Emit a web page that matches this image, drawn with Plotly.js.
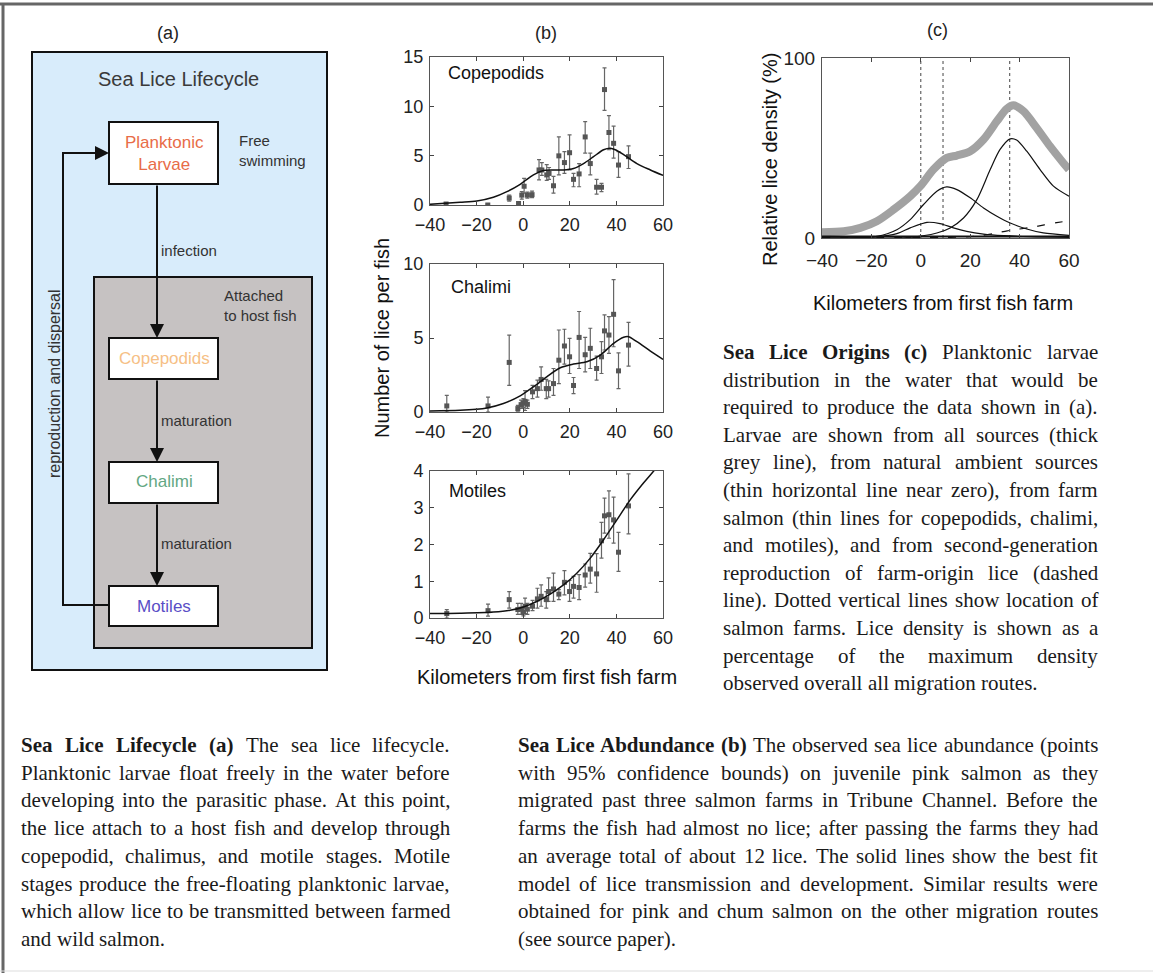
<!DOCTYPE html>
<html><head><meta charset="utf-8">
<script src="https://cdn.plot.ly/plotly-3.0.1.min.js"></script>
<style>html,body{margin:0;padding:0;background:#fff;overflow:hidden}</style>
</head><body><div id="chart" style="width:1153px;height:973px"></div>
<script>
// ---------------- DATA ----------------
const kmTicks = [-40, -20, 0, 20, 40, 60];

// (b) Copepodids: observed abundance with 95% bounds
const copX  = [-33.1,-15.2,-6.0,-2.0,-0.6,0.4,1.8,3.8,6.8,8.0,10.1,11.1,13.0,15.3,17.7,19.9,21.6,24.0,26.6,28.8,31.5,33.6,34.9,36.8,38.8,40.9,45.2];
const copY  = [0.1,0.0,0.7,0.15,1.0,1.9,1.0,1.05,3.55,3.55,3.05,3.2,1.95,4.98,4.3,5.3,2.6,3.15,6.9,4.2,1.8,1.8,11.7,7.35,6.25,4.05,4.9];
const copLo = [0.0,0.0,0.4,0.0,0.6,1.2,0.7,0.75,2.55,3.0,2.5,2.6,1.2,3.05,3.2,3.55,1.85,1.85,5.25,3.05,1.1,1.35,9.6,5.6,4.75,2.8,3.7];
const copHi = [0.2,0.1,1.0,0.35,1.35,2.7,1.3,1.4,4.6,4.3,4.1,3.8,2.9,6.9,5.4,7.1,3.2,4.2,8.45,5.25,2.6,2.2,13.9,9.05,8.0,5.4,6.0];
const copFitX = [-40,-27.1,-19.9,-12.8,-7,-1.3,4.4,8.7,13,17.3,21.6,25.9,30.2,34.5,37.4,39.5,43.1,48.8,54.6,60];
const copFitY = [0.07,0.27,0.4,0.78,1.35,2.1,3.05,3.5,3.55,3.55,3.7,4.2,4.9,5.6,5.75,5.6,5.1,4.2,3.55,3.0];

// (b) Chalimi
const chaX  = [-32.8,-15.1,-6.0,-2.3,-0.9,0.1,0.8,1.8,4.0,6.1,7.7,9.9,10.9,13.0,15.3,17.7,19.9,21.6,24.0,26.6,28.8,31.5,33.6,34.9,36.8,38.8,40.9,45.2];
const chaY  = [0.41,0.41,3.35,0.23,0.5,0.6,0.72,0.52,1.36,1.58,2.2,1.58,1.58,1.92,3.5,4.46,3.73,1.79,5.04,3.87,4.3,2.94,3.73,5.48,5.2,6.6,2.78,4.52];
const chaLo = [0,0,1.8,0.05,0.25,0.3,0.1,0.25,0.9,1.0,1.47,0.9,1.0,1.13,1.92,3.24,2.6,1.24,2.94,2.71,2.94,2.15,2.6,4.19,3.96,4.41,1.58,3.1];
const chaHi = [1.13,1.0,5.2,0.45,0.8,0.9,1.45,0.8,1.8,2.15,3.05,2.2,2.1,2.94,5.54,5.59,4.98,2.33,6.79,5.04,5.66,3.78,4.75,6.56,6.45,8.94,4.0,6.06];
const chaFitX = [-40,-27.1,-15.6,-8.5,-1.3,4.4,10.1,15.9,21.6,27.3,33.1,38.8,43.1,45.2,48.8,54.6,60];
const chaFitY = [0.07,0.11,0.27,0.57,1.09,1.7,2.38,2.99,3.24,3.39,3.85,4.64,5.05,5.09,4.75,4.12,3.55];

// (b) Motiles
const motX  = [-32.8,-15.1,-6.0,-2.3,-0.9,0.1,0.8,1.8,4.0,6.1,7.7,9.9,10.9,13.0,15.3,17.7,19.9,21.6,24.0,26.6,28.8,31.5,33.6,34.9,36.8,38.8,40.9,45.2];
const motY  = [0.12,0.2,0.5,0.23,0.24,0.16,0.32,0.24,0.32,0.52,0.59,0.5,0.72,0.79,0.65,0.97,0.72,0.86,0.83,1.17,1.33,1.2,2.1,2.78,2.81,2.67,1.79,3.05];
const motLo = [0.0,0.05,0.27,0.1,0.1,0.06,0.12,0.1,0.2,0.27,0.32,0.27,0.45,0.45,0.5,0.63,0.45,0.54,0.5,0.84,0.95,0.7,1.63,2.31,2.17,2.04,1.27,2.29];
const motHi = [0.23,0.38,0.72,0.4,0.4,0.3,0.54,0.4,0.48,0.81,0.9,0.72,1.09,1.22,0.77,1.29,1.02,1.13,1.18,1.47,1.76,1.75,2.6,3.26,3.46,3.29,2.33,3.92];
const motFitX = [-40,-27.1,-12.8,-5.6,0.1,5.8,11.6,17.3,23,28.8,34.5,40.2,46,51.7,56.3,60];
const motFitY = [0.12,0.13,0.16,0.21,0.3,0.45,0.65,0.9,1.22,1.63,2.13,2.67,3.22,3.68,4.02,4.3];

// (c) Relative larval density (%)
const farmKm = [0, 9, 36];
const allX = [-40,-31.2,-24.5,-17.8,-11,-4.3,-0.2,5.1,10.5,14.6,20,25.4,30.8,34.8,37.5,41.5,46.9,52.3,57.7,60];
const allY = [3.2,3.7,5.6,9.3,15.8,23.2,28.8,38,44.5,45.8,48.2,54.7,64.9,71.8,73.7,70.5,61.2,51,41.7,38];
const srcCopX = [-40,-4.3,6.5,11.9,17.3,22.7,28.1,32.1,36.2,38.8,42.9,48.3,53.7,60];
const srcCopY = [0,0.4,2.8,5.6,11.1,21.3,38,49.2,55.1,54.4,48.2,38,28.8,23.2];
const srcChaX = [-40,-17.8,-9.7,-4.3,1.1,6.5,10.5,14.6,20,25.4,30.8,36.2,42.9,49.6,60];
const srcChaY = [0,0.9,4.6,10.2,18.6,26,28.4,26.9,22.3,16.7,12.1,8.3,5,2.8,1.5];
const srcMotX = [-40,-17.8,-9.7,-4.3,2.5,7.8,13.2,18.6,25.4,33.5,44.3,60];
const srcMotY = [0,0.6,2.4,5.6,8.7,8,5.6,3.7,2.2,1.3,0.7,0.4];
const genX = [-40,10,20,25,30,35,40,45,50,55,60];
const genY = [0.2,0.3,0.8,1.5,2.6,4,5,6,7.3,8.5,9.6];
const ambX = [-40,60];
const ambY = [0.8,0.8];

// captions
const capA = ["Sea Lice Lifecycle (a) The sea lice lifecycle.",
 "Planktonic larvae float freely in the water before",
 "developing into the parasitic phase. At this point,",
 "the lice attach to a host fish and develop through",
 "copepodid, chalimus, and motile stages. Motile",
 "stages produce the free-floating planktonic larvae,",
 "which allow lice to be transmitted between farmed",
 "and wild salmon."];
const capB = ["Sea Lice Abdundance (b) The observed sea lice abundance (points",
 "with 95% confidence bounds) on juvenile pink salmon as they",
 "migrated past three  salmon farms in Tribune Channel. Before the",
 "farms the fish had almost no lice; after passing the farms they had",
 "an average total of about 12 lice. The solid lines show the best fit",
 "model of lice transmission and development. Similar results were",
 "obtained for pink and chum salmon on the other migration routes",
 "(see source paper)."];
const capC = ["Sea Lice Origins (c) Planktonic larvae",
 "distribution in the water that would be",
 "required to produce the data shown in (a).",
 "Larvae are shown from all sources (thick",
 "grey line), from natural ambient sources",
 "(thin horizontal line near zero), from farm",
 "salmon (thin lines for copepodids, chalimi,",
 "and motiles), and from second-generation",
 "reproduction of farm-origin lice (dashed",
 "line). Dotted vertical lines show location of",
 "salmon farms. Lice density is shown as a",
 "percentage of the maximum density",
 "observed overall all migration routes."];

// ---------------- LAYOUT HELPERS ----------------
const W = 1153, H = 973;
const px = x => x / W;
const py = y => 1 - y / H;
const SANS = 'Liberation Sans';
const SERIF = 'Liberation Serif';

function obs(x, y, lo, hi, xa, ya) {
  return {type:'scatter', mode:'markers', x:x, y:y, xaxis:xa, yaxis:ya,
    marker:{size:5, color:'#555', symbol:'square'},
    error_y:{type:'data', symmetric:false,
      array: hi.map((v,i)=>v-y[i]), arrayminus: y.map((v,i)=>v-lo[i]),
      color:'#666', thickness:1.2, width:2},
    showlegend:false, hoverinfo:'skip'};
}
function ln(x, y, xa, ya, color, width, dash) {
  return {type:'scatter', mode:'lines', x:x, y:y, xaxis:xa, yaxis:ya,
    line:{color:color, width:width, dash:dash||'solid', shape:'spline', smoothing:0.8},
    showlegend:false, hoverinfo:'skip'};
}

const traces = [
  obs(copX, copY, copLo, copHi, 'x', 'y'),
  ln(copFitX, copFitY, 'x', 'y', '#111', 1.5),
  obs(chaX, chaY, chaLo, chaHi, 'x2', 'y2'),
  ln(chaFitX, chaFitY, 'x2', 'y2', '#111', 1.5),
  obs(motX, motY, motLo, motHi, 'x3', 'y3'),
  ln(motFitX, motFitY, 'x3', 'y3', '#111', 1.5),
];
farmKm.forEach(f => traces.push({type:'scatter', mode:'lines', x:[f,f], y:[0,100], xaxis:'x4', yaxis:'y4',
  line:{color:'#444', width:1, dash:'dot'}, showlegend:false, hoverinfo:'skip'}));
traces.push(ln(allX, allY, 'x4', 'y4', '#a2a2a2', 8));
traces.push(ln(srcCopX, srcCopY, 'x4', 'y4', '#111', 1.2));
traces.push(ln(srcChaX, srcChaY, 'x4', 'y4', '#111', 1.2));
traces.push(ln(srcMotX, srcMotY, 'x4', 'y4', '#111', 1.2));
traces.push(ln(genX, genY, 'x4', 'y4', '#111', 1.2, '8px,10px'));
traces.push(ln(ambX, ambY, 'x4', 'y4', '#111', 2));

function axis(dom, range, tickvals, anchor, extra) {
  return Object.assign({domain:dom, range:range, tickvals:tickvals, anchor:anchor,
    ticks:'inside', ticklen:4, tickcolor:'#444', showline:true, linecolor:'#555', linewidth:1,
    mirror:'ticks', showgrid:false, zeroline:false, fixedrange:true,
    tickfont:{family:SANS, size:18, color:'#222'}}, extra||{});
}
const xb = {ticklabelstandoff:3};
const yb = {ticklabelstandoff:2};

const layout = {
  width:W, height:H, autosize:false,
  margin:{l:0, r:0, t:0, b:0, pad:0},
  paper_bgcolor:'#fff', plot_bgcolor:'#fff',
  showlegend:false,
  xaxis:  axis([px(430), px(663)], [-40,60], kmTicks, 'y', xb),
  yaxis:  axis([py(205), py(57)], [0,15], [0,5,10,15], 'x', yb),
  xaxis2: axis([px(430), px(663)], [-40,60], kmTicks, 'y2', xb),
  yaxis2: axis([py(412), py(264)], [0,10], [0,5,10], 'x2', yb),
  xaxis3: axis([px(430), px(663)], [-40,60], kmTicks, 'y3', xb),
  yaxis3: axis([py(618), py(471)], [0,4], [0,1,2,3,4], 'x3', yb),
  xaxis4: axis([px(822), px(1069)], [-40,60], kmTicks, 'y4', {tickfont:{family:SANS,size:19,color:'#222'}, ticklabelstandoff:5}),
  yaxis4: axis([py(238), py(58)], [0,100], [0,100], 'x4', {tickfont:{family:SANS,size:19,color:'#222'}, ticklabelstandoff:2}),
  shapes: [], annotations: []
};

const S = layout.shapes, A = layout.annotations;
// outer frame
S.push({type:'line', xref:'paper', yref:'paper', x0:0, x1:1, y0:py(4), y1:py(4), line:{color:'#666', width:3}});
S.push({type:'line', xref:'paper', yref:'paper', x0:px(3), x1:px(3), y0:py(4), y1:0, line:{color:'#666', width:3}});
S.push({type:'line', xref:'paper', yref:'paper', x0:0, x1:1, y0:py(971), y1:py(971), line:{color:'#ddd', width:1}});

// diagram (a)
function rect(x0,y0,x1,y1,fill) {
  S.push({type:'rect', xref:'paper', yref:'paper', x0:px(x0), x1:px(x1), y0:py(y1), y1:py(y0),
    fillcolor:fill, line:{color:'#111', width:2}, layer:'below'});
}
rect(32, 52, 327, 670, '#d8ecfb');
rect(94, 277, 312, 648, '#c6c2c2');
rect(109, 122, 218, 184, '#ffffff');
rect(109, 338, 218, 379, '#ffffff');
rect(109, 462, 218, 503, '#ffffff');
rect(109, 586, 218, 626, '#ffffff');
S.push({type:'path', xref:'paper', yref:'paper',
  path:`M${px(109)},${py(605)} L${px(63)},${py(605)} L${px(63)},${py(153)} L${px(90)},${py(153)}`,
  line:{color:'#111', width:2}});

function txt(x, y, t, opt) {
  A.push(Object.assign({x:px(x), y:py(y), xref:'paper', yref:'paper', text:t, showarrow:false,
    xanchor:'center', yanchor:'middle', font:{family:SANS, size:15, color:'#333'}}, opt||{}));
}
function arrow(x, yHead, tailDx, tailDy) {
  A.push({x:px(x), y:py(yHead), xref:'paper', yref:'paper', text:'', showarrow:true,
    ax:tailDx, ay:tailDy, arrowhead:2, arrowsize:1.4, arrowwidth:2, arrowcolor:'#111'});
}
arrow(157, 338, 0, -(338-184));
arrow(157, 462, 0, -(462-379));
arrow(157, 586, 0, -(586-503));
arrow(109, 153, -46, 0);

txt(168, 33, '(a)', {font:{family:SANS, size:18, color:'#222'}});
txt(546, 33, '(b)', {font:{family:SANS, size:18, color:'#222'}});
txt(937, 30, '(c)', {font:{family:SANS, size:18, color:'#222'}});
txt(178, 79, 'Sea Lice Lifecycle', {font:{family:SANS, size:20, color:'#3a3a3a'}});
txt(164, 153, 'Planktonic<br>Larvae', {font:{family:SANS, size:17, color:'#e86c48'}});
txt(237, 151, 'Free<br>swimming', {xanchor:'left', align:'left'});
txt(159, 250, 'infection', {xanchor:'left'});
txt(222, 305, 'Attached<br>to host fish', {xanchor:'left', align:'left'});
txt(164, 358, 'Copepodids', {font:{family:SANS, size:17, color:'#f6bf86'}});
txt(159, 420, 'maturation', {xanchor:'left'});
txt(164, 482, 'Chalimi', {font:{family:SANS, size:17, color:'#62a783'}});
txt(159, 543, 'maturation', {xanchor:'left'});
txt(164, 606, 'Motiles', {font:{family:SANS, size:17, color:'#5a4ec6'}});
txt(55, 384, 'reproduction and dispersal', {textangle:-90, font:{family:SANS, size:16, color:'#333'}});

// panel labels
txt(446, 73, 'Copepodids', {xanchor:'left', font:{family:SANS, size:18, color:'#111'}});
txt(449, 287, 'Chalimi', {xanchor:'left', font:{family:SANS, size:18, color:'#111'}});
txt(447, 491, 'Motiles', {xanchor:'left', font:{family:SANS, size:18, color:'#111'}});
txt(382, 338, 'Number of lice per fish', {textangle:-90, font:{family:SANS, size:20, color:'#111'}});
txt(547, 677, 'Kilometers from first fish farm', {font:{family:SANS, size:20, color:'#111'}});
txt(770, 160, 'Relative lice density (%)', {textangle:-90, font:{family:SANS, size:20, color:'#111'}});
txt(943, 303, 'Kilometers from first fish farm', {font:{family:SANS, size:20, color:'#111'}});

// justified captions
const ctx = document.createElement('canvas').getContext('2d');
const CAP_SIZE = 21;
function meas(t, bold) {
  ctx.font = (bold ? 'bold ' : '') + CAP_SIZE + 'px "Liberation Serif"';
  return ctx.measureText(t).width;
}
function paragraph(lines, nBold, left, right, y0, dy) {
  const spaceW = meas(' ', false);
  lines.forEach((line, li) => {
    const words = line.split(/\s+/);
    const bold = words.map((w, wi) => li === 0 && wi < nBold);
    const widths = words.map((w, wi) => meas(w, bold[wi]));
    const total = widths.reduce((a, b) => a + b, 0);
    const last = li === lines.length - 1;
    let gap = last || words.length < 2 ? spaceW : (right - left - total) / (words.length - 1);
    if (gap < 2) gap = 2;
    let cur = left;
    words.forEach((w, wi) => {
      A.push({x:px(cur), y:py(y0 + li*dy), xref:'paper', yref:'paper', showarrow:false,
        xanchor:'left', yanchor:'middle', borderpad:0,
        text: bold[wi] ? '<b>' + w + '</b>' : w,
        font:{family:SERIF, size:CAP_SIZE, color:'#1a1a1a'}});
      cur += widths[wi] + gap;
    });
  });
}
paragraph(capA, 4, 20, 449, 745, 27.7);
paragraph(capB, 4, 517, 1097, 745, 27.7);
paragraph(capC, 4, 722, 1097, 352, 27.6);

Plotly.newPlot('chart', traces, layout, {staticPlot:true, displayModeBar:false});
</script></body></html>
